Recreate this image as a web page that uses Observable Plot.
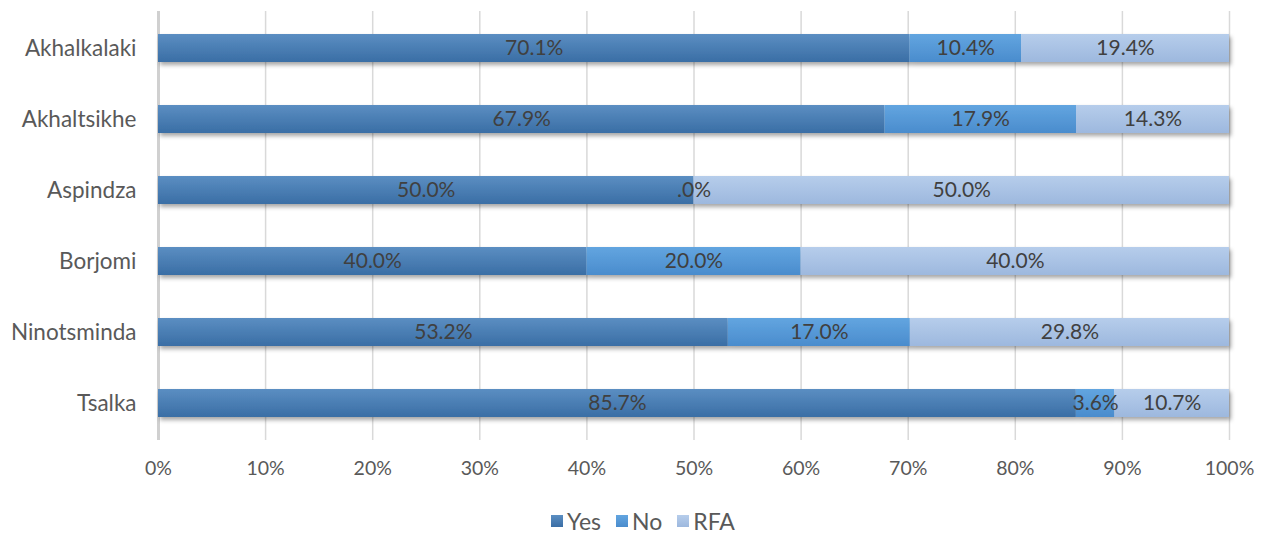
<!DOCTYPE html>
<html>
<head>
<meta charset="utf-8">
<script src="https://cdn.jsdelivr.net/npm/d3@7"></script>
<script src="https://cdn.jsdelivr.net/npm/@observablehq/plot@0.6"></script>
<style>
  html, body { margin: 0; padding: 0; background: #fff; }
  body { width: 1264px; height: 534px; overflow: hidden; font-family: Lato, "Open Sans", sans-serif; }
  #legend { display: flex; justify-content: center; gap: 15px; font-size: 23px; color: #595959; margin-top: 16px; padding-left: 22px; line-height: 26px; }
  #legend span.item { display: inline-flex; align-items: center; gap: 4px; }
  #legend span.sw { width: 12px; height: 12px; display: inline-block; }
</style>
</head>
<body>
<div id="chart"></div>
<div id="legend"></div>
<script>
const cities = ["Akhalkalaki", "Akhaltsikhe", "Aspindza", "Borjomi", "Ninotsminda", "Tsalka"];
const responses = ["Yes", "No", "RFA"];
const yesValues = [70.1, 67.9, 50.0, 40.0, 53.2, 85.7];
const noValues  = [10.4, 17.9, 0.0, 20.0, 17.0, 3.6];
const rfaValues = [19.4, 14.3, 50.0, 40.0, 29.8, 10.7];
const xTicks = [0, 0.1, 0.2, 0.3, 0.4, 0.5, 0.6, 0.7, 0.8, 0.9, 1.0];
const gradTop = {Yes: "#5b8ec2", No: "#62a5e0", RFA: "#b6cdeb"};
const gradBot = {Yes: "#3a6ea5", No: "#4a8ccd", RFA: "#9db8de"};

const series = {Yes: yesValues, No: noValues, RFA: rfaValues};
const data = [];
cities.forEach((c, i) => responses.forEach(r => data.push({city: c, resp: r, value: series[r][i]})));

const fmt = v => v === 0 ? ".0%" : v.toFixed(1) + "%";
const gid = r => "grad-" + r;

const plot = Plot.plot({
  width: 1264,
  height: 492,
  marginLeft: 158,
  marginRight: 35,
  marginTop: 11,
  marginBottom: 52,
  style: {fontFamily: "Lato, 'Open Sans', sans-serif", fontSize: "19px", color: "#595959", background: "#fff"},
  x: {domain: [0, 1], label: null},
  y: {domain: cities, label: null, paddingInner: 0.6, paddingOuter: 0.3},
  marks: [
    Plot.gridX(xTicks, {stroke: "#d9d9d9", strokeOpacity: 1, strokeWidth: 1.5}),
    Plot.ruleX([0], {stroke: "#d0d0d0", strokeWidth: 3}),
    Plot.barX(data, Plot.stackX({
      x: "value", y: "city", z: "resp", offset: "normalize",
      fill: d => `url(#${gid(d.resp)})`
    })),
    Plot.textX(data, Plot.stackX({
      x: "value", y: "city", z: "resp", offset: "normalize",
      text: d => fmt(d.value), fill: "#404040", fontSize: 21
    })),
    Plot.axisX({ticks: xTicks, tickFormat: d => Math.round(d * 100) + "%", tickSize: 0, tickPadding: 21, label: null, fontSize: 19.5, fill: "#595959"}),
    Plot.axisY({tickSize: 0, tickPadding: 22, label: null, fontSize: 22.5, fill: "#595959"})
  ]
});

// gradients & shadow
const svg = d3.select(plot);
const defs = svg.insert("defs", ":first-child");
responses.forEach(r => {
  const g = defs.append("linearGradient").attr("id", gid(r)).attr("x1", 0).attr("y1", 0).attr("x2", 0).attr("y2", 1);
  g.append("stop").attr("offset", "0%").attr("stop-color", gradTop[r]);
  g.append("stop").attr("offset", "100%").attr("stop-color", gradBot[r]);
});
const f = defs.append("filter").attr("id", "shadow").attr("x", "-5%").attr("y", "-20%").attr("width", "110%").attr("height", "160%");
f.append("feDropShadow").attr("dx", 2).attr("dy", 3).attr("stdDeviation", 2).attr("flood-color", "#000").attr("flood-opacity", 0.35);
svg.selectAll("g[aria-label='bar']").attr("filter", "url(#shadow)");

document.getElementById("chart").appendChild(plot);

const legend = document.getElementById("legend");
responses.forEach(r => {
  const item = document.createElement("span");
  item.className = "item";
  item.innerHTML = `<span class="sw" style="background:linear-gradient(${gradTop[r]},${gradBot[r]})"></span><span>${r}</span>`;
  legend.appendChild(item);
});
</script>
</body>
</html>
